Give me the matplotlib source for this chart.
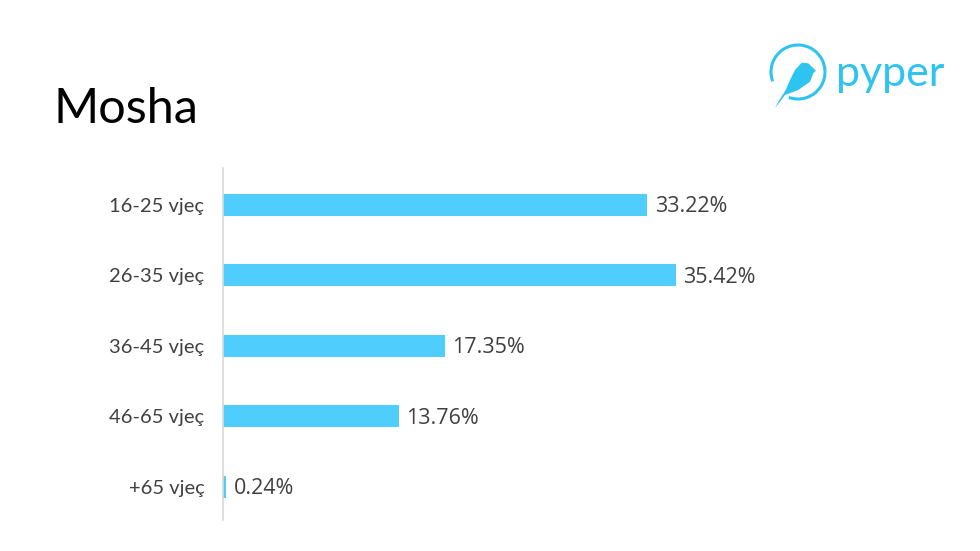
import matplotlib
matplotlib.use("Agg")
from matplotlib import pyplot as plt
from matplotlib.patches import Arc, Polygon

categories = ["16-25 vjeç", "26-35 vjeç", "36-45 vjeç", "46-65 vjeç", "+65 vjeç"]
values = [33.22, 35.42, 17.35, 13.76, 0.24]
labels = ["33.22%", "35.42%", "17.35%", "13.76%", "0.24%"]

bar_color = "#4FCDFD"
logo_color = "#2EC4F0"
text_color = "#404040"

fig = plt.figure(figsize=(9.8, 5.51), dpi=100)
fig.patch.set_facecolor("white")

ax = fig.add_axes([0.2276, 0.0563, 0.73, 0.639])
ypos = list(range(len(categories)))
ax.barh(ypos, values, height=0.31, color=bar_color)
for y, v, lab in zip(ypos, values, labels):
    ax.text(v + 0.6, y + 0.03, lab, va="center", ha="left", fontsize=15.5,
            color=text_color, family="Open Sans")

ax.set_ylim(4.47, -0.52)
ax.set_xlim(0, 56)
ax.set_yticks(ypos)
ax.set_yticklabels(categories, fontsize=14.5, color=text_color, family="Lato")
ax.tick_params(axis="y", length=0, pad=13.5)
ax.set_xticks([])
for s in ["top", "right", "bottom"]:
    ax.spines[s].set_visible(False)
ax.spines["left"].set_color("#d9d9d9")
ax.spines["left"].set_linewidth(1.2)

# title
fig.text(53 / 980, 1 - 123 / 551, "Mosha", fontsize=35, color="black",
         family="Lato", va="baseline", ha="left")

# logo
lax = fig.add_axes([0, 0, 1, 1], facecolor="none")
lax.set_xlim(0, 980)
lax.set_ylim(551, 0)
lax.axis("off")
lax.add_patch(Arc((798, 72), 54, 54, theta1=160, theta2=470, color=logo_color, lw=2.2))
bird = [(775, 108.3), (785, 95), (798.3, 90), (810, 81.7), (813.3, 73.3),
        (816, 70.7), (808.3, 63.3), (801.7, 62.7), (795, 70), (790, 80),
        (785.7, 90), (778.3, 101.7)]
lax.add_patch(Polygon(bird, closed=True, fc=logo_color, ec="none"))
lax.text(836, 74, "pyper", fontsize=31, color=logo_color, family="Lato",
         va="center", ha="left")

fig.savefig("out.png", dpi=100)
